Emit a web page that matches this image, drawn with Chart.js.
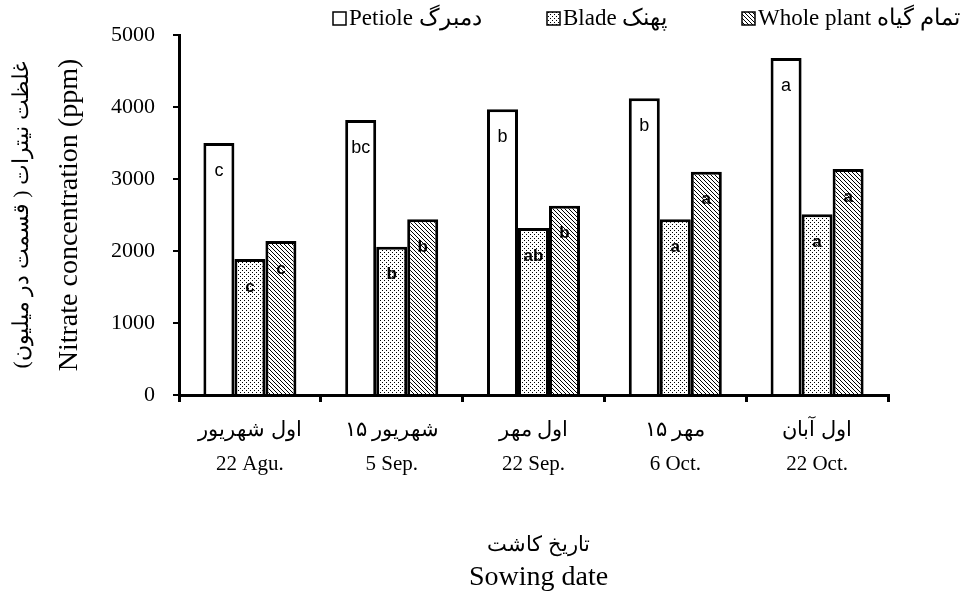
<!DOCTYPE html>
<html>
<head>
<meta charset="utf-8">
<script src="https://cdn.jsdelivr.net/npm/chart.js@4.4.0/dist/chart.umd.min.js"></script>
<style>
  body { margin: 0; background: #fff; }
</style>
</head>
<body>
<canvas id="chart" width="978" height="597"></canvas>
<script>
// data
const datesFa = ['اول شهریور', '۱۵ شهریور', 'اول مهر', '۱۵ مهر', 'اول آبان'];
const datesEn = ['22 Agu.', '5 Sep.', '22 Sep.', '6 Oct.', '22 Oct.'];
const seriesNames = ['Petiole دمبرگ', 'Blade پهنک', 'Whole plant تمام گیاه'];
const petiole = [3500, 3820, 3970, 4120, 4680];
const blade = [1890, 2060, 2320, 2440, 2510];
const wholePlant = [2140, 2440, 2630, 3100, 3140];
const petioleLetters = ['c', 'bc', 'b', 'b', 'a'];
const bladeLetters = ['c', 'b', 'ab', 'a', 'a'];
const wholeLetters = ['c', 'b', 'b', 'a', 'a'];
const yTicks = [0, 1000, 2000, 3000, 4000, 5000];
const yTitle = ['غلظت نیترات ( قسمت در میلیون)', 'Nitrate concentration (ppm)'];
const xTitle = ['تاریخ کاشت', 'Sowing date'];

const serif = '"Liberation Serif", "Times New Roman", serif';
const sans = '"Liberation Sans", Arial, sans-serif';

// small fill patterns for the bars
function makePattern(size, draw) {
  const c = document.createElement('canvas');
  c.width = c.height = size;
  const g = c.getContext('2d');
  g.fillStyle = '#fff';
  g.fillRect(0, 0, size, size);
  g.fillStyle = '#000';
  draw(g);
  return g.createPattern(c, 'repeat');
}
const dots = makePattern(4, g => { g.fillRect(0, 0, 1, 1); g.fillRect(2, 2, 1, 1); });
const hatch = makePattern(4, g => { for (let i = 0; i < 4; i++) g.fillRect(i, i, 1, 1); });

// letters of the mean comparison, inside each bar
const barLetters = {
  id: 'barLetters',
  afterDatasetsDraw(chart) {
    const ctx = chart.ctx;
    ctx.save();
    ctx.textAlign = 'center';
    ctx.textBaseline = 'middle';
    ctx.fillStyle = '#000';
    chart.data.datasets.forEach((ds, i) => {
      ctx.font = i === 0 ? '18px ' + sans : 'bold 17px ' + sans;
      chart.getDatasetMeta(i).data.forEach((bar, j) => {
        ctx.fillText(ds.letters[j], bar.x, bar.y + 28);
      });
    });
    ctx.restore();
  }
};

// legend and the two-language axis titles
const decor = {
  id: 'decor',
  afterDraw(chart) {
    const { ctx, chartArea: a } = chart;
    ctx.save();
    ctx.textBaseline = 'middle';
    ctx.textAlign = 'left';
    ctx.font = '23px ' + serif;
    const legendX = [333, 547, 742];
    chart.data.datasets.forEach((ds, i) => {
      const x = legendX[i], y = 19;
      ctx.fillStyle = ds.backgroundColor;
      ctx.fillRect(x, y - 7, 13, 13);
      ctx.strokeStyle = '#000';
      ctx.lineWidth = 1.5;
      ctx.strokeRect(x, y - 7, 13, 13);
      ctx.fillStyle = '#000';
      ctx.fillText(ds.label, x + 16, y);
    });

    ctx.textAlign = 'center';
    const cx = (a.left + a.right) / 2 + 5;
    ctx.font = '21px ' + serif;
    ctx.fillText(xTitle[0], cx, 545);
    ctx.font = '28px ' + serif;
    ctx.fillText(xTitle[1], cx, 578);

    const cy = (a.top + a.bottom) / 2;
    ctx.translate(0, cy);
    ctx.rotate(-Math.PI / 2);
    ctx.font = '22px ' + serif;
    ctx.fillText(yTitle[0], 0, 22);
    ctx.font = '28px ' + serif;
    ctx.fillText(yTitle[1], 0, 70);
    ctx.restore();
  }
};

const bars = (label, data, fill, letters) => ({
  label, data, letters,
  backgroundColor: fill,
  borderColor: '#000',
  borderWidth: 3,
  barPercentage: 1,
  categoryPercentage: 0.656
});

new Chart(document.getElementById('chart'), {
  type: 'bar',
  data: {
    labels: datesFa.map((fa, i) => [fa, datesEn[i]]),
    datasets: [
      bars(seriesNames[0], petiole, '#fff', petioleLetters),
      bars(seriesNames[1], blade, dots, bladeLetters),
      bars(seriesNames[2], wholePlant, hatch, wholeLetters)
    ]
  },
  options: {
    responsive: false,
    devicePixelRatio: 1,
    animation: false,
    layout: { padding: { top: 35, right: 90, bottom: 0, left: 0 } },
    plugins: {
      legend: { display: false },
      tooltip: { enabled: false }
    },
    scales: {
      x: {
        offset: true,
        grid: { offset: true, drawOnChartArea: false, color: '#000', lineWidth: 3, tickLength: 7 },
        border: { color: '#000', width: 3 },
        ticks: {
          color: '#000',
          font: { family: serif, size: 21, lineHeight: 1.65 },
          padding: 11,
          maxRotation: 0,
          autoSkip: false
        },
        afterFit: s => { s.height = 202; }
      },
      y: {
        min: 0,
        max: 5000,
        grid: { drawOnChartArea: false, color: '#000', lineWidth: 2, tickLength: 6 },
        border: { color: '#000', width: 3 },
        ticks: {
          color: '#000',
          font: { family: serif, size: 22 },
          padding: 18,
          callback: v => String(v)
        },
        afterBuildTicks: s => { s.ticks = yTicks.map(v => ({ value: v })); },
        afterFit: s => { s.width = 179; }
      }
    }
  },
  plugins: [barLetters, decor]
});
</script>
</body>
</html>
